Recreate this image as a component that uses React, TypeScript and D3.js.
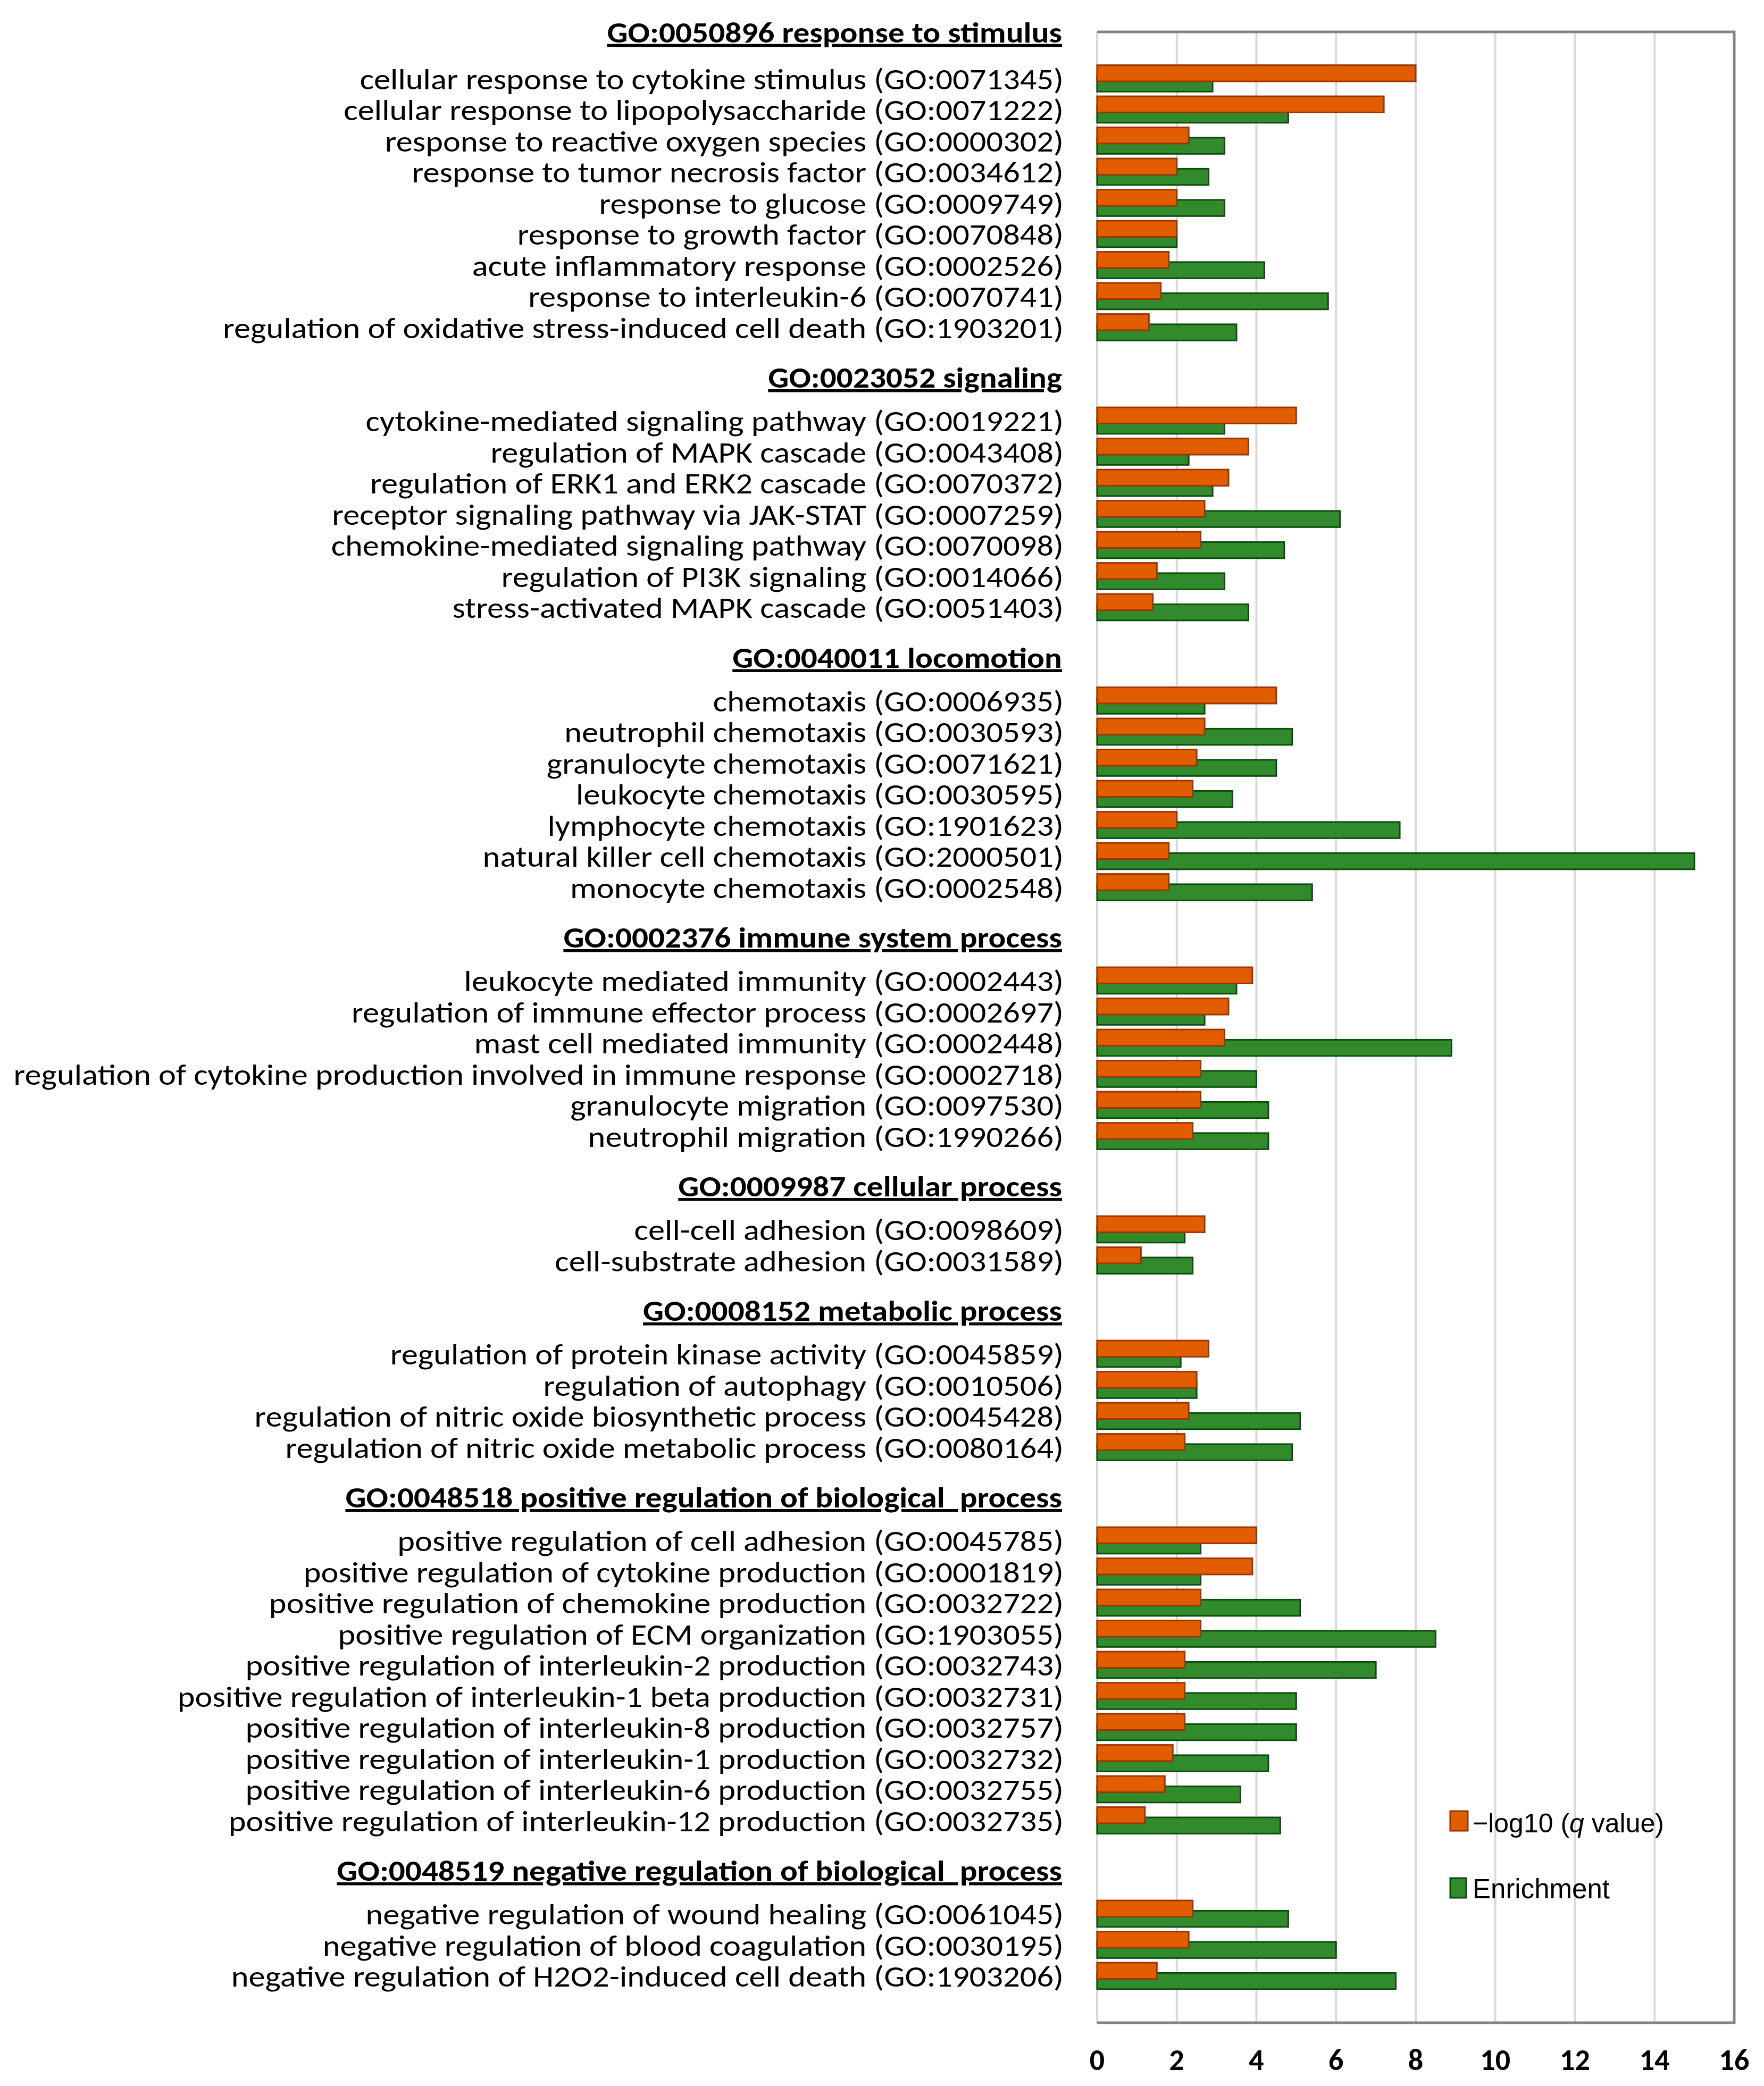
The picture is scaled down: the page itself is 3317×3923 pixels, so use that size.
import { useEffect } from 'react';
import * as d3 from 'd3';

const groupTitles = [
  'GO:0050896 response to stimulus',
  'GO:0023052 signaling',
  'GO:0040011 locomotion',
  'GO:0002376 immune system process',
  'GO:0009987 cellular process',
  'GO:0008152 metabolic process',
  'GO:0048518 positive regulation of biological  process',
  'GO:0048519 negative regulation of biological  process',
];
const groupSizes = [9, 7, 7, 6, 2, 4, 10, 3];

const terms = [
  'cellular response to cytokine stimulus (GO:0071345)',
  'cellular response to lipopolysaccharide (GO:0071222)',
  'response to reactive oxygen species (GO:0000302)',
  'response to tumor necrosis factor (GO:0034612)',
  'response to glucose (GO:0009749)',
  'response to growth factor (GO:0070848)',
  'acute inflammatory response (GO:0002526)',
  'response to interleukin-6 (GO:0070741)',
  'regulation of oxidative stress-induced cell death (GO:1903201)',
  'cytokine-mediated signaling pathway (GO:0019221)',
  'regulation of MAPK cascade (GO:0043408)',
  'regulation of ERK1 and ERK2 cascade (GO:0070372)',
  'receptor signaling pathway via JAK-STAT (GO:0007259)',
  'chemokine-mediated signaling pathway (GO:0070098)',
  'regulation of PI3K signaling (GO:0014066)',
  'stress-activated MAPK cascade (GO:0051403)',
  'chemotaxis (GO:0006935)',
  'neutrophil chemotaxis (GO:0030593)',
  'granulocyte chemotaxis (GO:0071621)',
  'leukocyte chemotaxis (GO:0030595)',
  'lymphocyte chemotaxis (GO:1901623)',
  'natural killer cell chemotaxis (GO:2000501)',
  'monocyte chemotaxis (GO:0002548)',
  'leukocyte mediated immunity (GO:0002443)',
  'regulation of immune effector process (GO:0002697)',
  'mast cell mediated immunity (GO:0002448)',
  'regulation of cytokine production involved in immune response (GO:0002718)',
  'granulocyte migration (GO:0097530)',
  'neutrophil migration (GO:1990266)',
  'cell-cell adhesion (GO:0098609)',
  'cell-substrate adhesion (GO:0031589)',
  'regulation of protein kinase activity (GO:0045859)',
  'regulation of autophagy (GO:0010506)',
  'regulation of nitric oxide biosynthetic process (GO:0045428)',
  'regulation of nitric oxide metabolic process (GO:0080164)',
  'positive regulation of cell adhesion (GO:0045785)',
  'positive regulation of cytokine production (GO:0001819)',
  'positive regulation of chemokine production (GO:0032722)',
  'positive regulation of ECM organization (GO:1903055)',
  'positive regulation of interleukin-2 production (GO:0032743)',
  'positive regulation of interleukin-1 beta production (GO:0032731)',
  'positive regulation of interleukin-8 production (GO:0032757)',
  'positive regulation of interleukin-1 production (GO:0032732)',
  'positive regulation of interleukin-6 production (GO:0032755)',
  'positive regulation of interleukin-12 production (GO:0032735)',
  'negative regulation of wound healing (GO:0061045)',
  'negative regulation of blood coagulation (GO:0030195)',
  'negative regulation of H2O2-induced cell death (GO:1903206)',
];

// -log10(q value)
const qValues = [
  8.0, 7.2, 2.3, 2.0, 2.0, 2.0, 1.8, 1.6, 1.3,
  5.0, 3.8, 3.3, 2.7, 2.6, 1.5, 1.4,
  4.5, 2.7, 2.5, 2.4, 2.0, 1.8, 1.8,
  3.9, 3.3, 3.2, 2.6, 2.6, 2.4,
  2.7, 1.1,
  2.8, 2.5, 2.3, 2.2,
  4.0, 3.9, 2.6, 2.6, 2.2, 2.2, 2.2, 1.9, 1.7, 1.2,
  2.4, 2.3, 1.5,
];

const enrichment = [
  2.9, 4.8, 3.2, 2.8, 3.2, 2.0, 4.2, 5.8, 3.5,
  3.2, 2.3, 2.9, 6.1, 4.7, 3.2, 3.8,
  2.7, 4.9, 4.5, 3.4, 7.6, 15.0, 5.4,
  3.5, 2.7, 8.9, 4.0, 4.3, 4.3,
  2.2, 2.4,
  2.1, 2.5, 5.1, 4.9,
  2.6, 2.6, 5.1, 8.5, 7.0, 5.0, 5.0, 4.3, 3.6, 4.6,
  4.8, 6.0, 7.5,
];

const xTicks = [0, 2, 4, 6, 8, 10, 12, 14, 16];

const W = 3317;
const H = 3923;
const LABEL_FONT = 'Carlito, Lato, "Open Sans", sans-serif';
const LEGEND_FONT = '"Liberation Sans", Arial, sans-serif';
// Calibri-like proportions: a little wider than Lato for the same height
const STRETCH = 1.115;

export default function App() {
  useEffect(() => {
    document.body.style.margin = '0';
  }, []);

  // row layout: one blank row on top, two blank rows between groups, one at bottom
  const rowOf: number[] = [];
  const groupFirstRow: number[] = [];
  let r = 1;
  groupSizes.forEach((n, g) => {
    groupFirstRow.push(r);
    for (let j = 0; j < n; j++) rowOf.push(r++);
    r += g < groupSizes.length - 1 ? 2 : 1;
  });
  const nRows = r;

  const x = d3.scaleLinear().domain([0, 16]).range([2063, 3261]);
  const y = d3.scaleBand<number>().domain(d3.range(nRows)).range([60, 3804]);
  const bw = y.bandwidth();
  const cy = (row: number) => (y(row) ?? 0) + bw / 2;
  const barH = bw * 0.52;

  const [top, bottom] = y.range();
  const [left, right] = x.range();

  return (
    <svg width={W} height={H} style={{ display: 'block', background: '#fff' }}>
      {/* grid */}
      {xTicks.map(t => (
        <line key={`g${t}`} x1={x(t)} x2={x(t)} y1={top} y2={bottom}
          stroke="#d9d9d9" strokeWidth={4} />
      ))}
      {/* plot frame: top, right, bottom */}
      <path d={`M${left},${top}H${right}V${bottom}H${left}`} fill="none"
        stroke="#858585" strokeWidth={5} />

      {/* bars */}
      {terms.map((_, i) => {
        const c = cy(rowOf[i]);
        return (
          <g key={`b${i}`}>
            <rect x={x(0)} y={c - bw * 0.1} width={x(enrichment[i]) - x(0)} height={barH}
              fill="#318a2c" stroke="#0c4d0c" strokeWidth={3} />
            <rect x={x(0)} y={c - bw * 0.43} width={x(qValues[i]) - x(0)} height={barH}
              fill="#e25c00" stroke="#9e3500" strokeWidth={3} />
          </g>
        );
      })}

      {/* category labels */}
      {terms.map((t, i) => (
        <text key={`l${i}`} transform={`translate(2000,${cy(rowOf[i])}) scale(${STRETCH},1)`}
          dy="0.36em" textAnchor="end"
          fontFamily={LABEL_FONT} fontSize={56} fill="#000">{t}</text>
      ))}

      {/* group headers */}
      {groupTitles.map((t, g) => (
        <text key={`h${g}`}
          transform={`translate(1997,${cy(groupFirstRow[g]) - bw * (g === 0 ? 1.5 : 1.4)}) scale(${STRETCH},1)`}
          dy="0.36em" textAnchor="end" fontFamily={LABEL_FONT} fontSize={55} fontWeight="bold"
          style={{ textDecoration: 'underline', whiteSpace: 'pre' }} fill="#000">{t}</text>
      ))}

      {/* x tick labels */}
      {xTicks.map(t => (
        <text key={`t${t}`} x={x(t)} y={3893} textAnchor="middle" fontFamily={LABEL_FONT}
          fontSize={56} fontWeight="bold" fill="#000">{t}</text>
      ))}

      {/* legend */}
      <rect x={2727} y={3406} width={33} height={37} fill="#e25c00" stroke="#9e3500" strokeWidth={3} />
      <text x={2769} y={3446} fontFamily={LEGEND_FONT} fontSize={50} fill="#000">
        −log10 (<tspan fontStyle="italic">q</tspan> value)
      </text>
      <rect x={2727} y={3532} width={30} height={37} fill="#318a2c" stroke="#0c4d0c" strokeWidth={3} />
      <text x={2769} y={3570} fontFamily={LEGEND_FONT} fontSize={51} fill="#000">
        Enrichment
      </text>
    </svg>
  );
}
